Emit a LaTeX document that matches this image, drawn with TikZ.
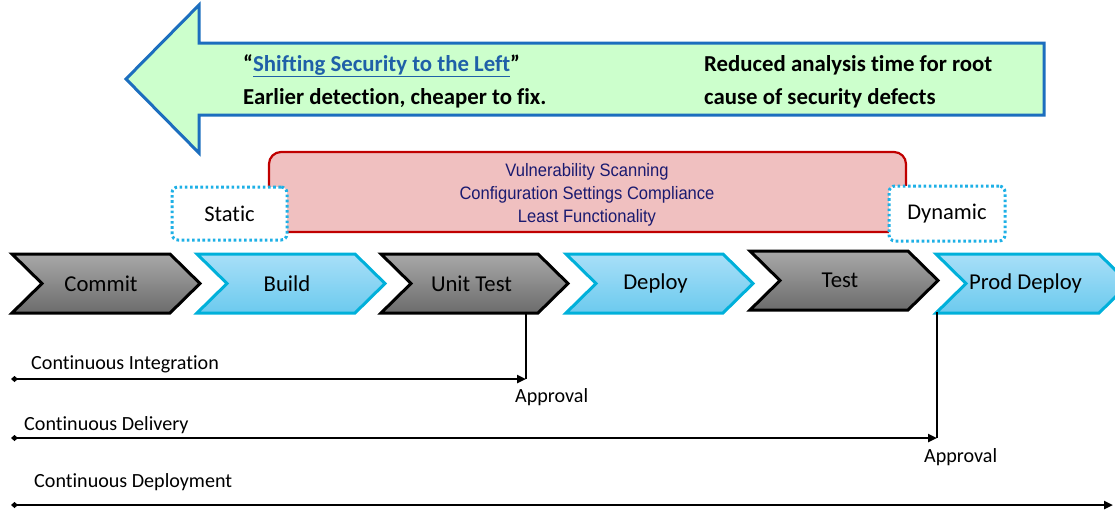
\documentclass[tikz,border=0pt]{standalone}
\usepackage{fontspec}
\setmainfont{Carlito}[Ligatures={NoCommon}]
\newfontfamily\arialn[FakeStretch=0.92]{Liberation Sans}
\usetikzlibrary{arrows.meta}
\definecolor{gfill}{HTML}{CCFFCC}
\definecolor{gline}{HTML}{1C6EBE}
\definecolor{linkblue}{HTML}{1F60A8}
\definecolor{rfill}{HTML}{F0C0C0}
\definecolor{rline}{HTML}{C00000}
\definecolor{navy}{HTML}{1A1A70}
\definecolor{dotcyan}{HTML}{1EB0E6}
\definecolor{graytop}{HTML}{A8A8A8}
\definecolor{graybot}{HTML}{6C6C6C}
\definecolor{bluetop}{HTML}{A8DFF8}
\definecolor{bluebot}{HTML}{6CCAEE}
\definecolor{blueline}{HTML}{00B0DA}
\newcommand\mychev[7]{% name, left x, top y, width, style, text, text offset
  \path[#5] (#2,#3) -- ++(#4-30,0) -- ++(30,29.5) -- ++(-30,29.5) -- ++(-#4+30,0) -- ++(30,-29.5) -- cycle;
  \node[chevtext] (#1) at (#2+#4/2+#7,#3+29.5) {#6};
  \coordinate (#1-sw) at (#2,#3+59);
}
\begin{document}
\begin{tikzpicture}[x=1pt,y=-1pt,
  greenarrow/.style={draw=gline,line width=3pt,fill=gfill,line join=miter},
  boldtxt/.style={anchor=base west,inner sep=0pt,font=\bfseries\fontsize{22.8}{26}\selectfont},
  redbox/.style={draw=rline,line width=2.2pt,fill=rfill,rounded corners=12pt},
  redtxt/.style={align=center,text=navy,font=\arialn\fontsize{18}{23}\selectfont},
  dotbox/.style={draw=dotcyan,fill=white,line width=3pt,dash pattern=on 2.6pt off 2.6pt,rounded corners=6pt,font=\fontsize{22.5}{25}\selectfont},
  graychev/.style={draw=black,line width=3pt,top color=graytop,bottom color=graybot,line join=miter},
  bluechev/.style={draw=blueline,line width=3pt,top color=bluetop,bottom color=bluebot,line join=miter},
  chevtext/.style={font=\fontsize{22.7}{25}\selectfont},
  lowtxt/.style={anchor=base west,inner sep=0pt,font=\fontsize{20.1}{23}\selectfont},
  conn/.style={draw=black,line width=2.4pt},
  connarrow/.style={conn,{Diamond[length=7pt,width=6pt]}-{Triangle[length=9pt,width=8pt]}}
]
\useasboundingbox (0,0) rectangle (1115,512);
\clip (0,0) rectangle (1115,512);

% green arrow
\path[greenarrow] (126,79) -- (199,5) -- (199,43) -- (1044,43) -- (1044,115) -- (199,115) -- (199,153) -- cycle;
\node[boldtxt] (shift) at (243,71) {“\textcolor{linkblue}{\underline{Shifting Security to the Left}}”};
\node[boldtxt] (earlier) at (243,104) {Earlier detection, cheaper to fix.};
\node[boldtxt] (reduced) at (704,71) {Reduced analysis time for root};
\node[boldtxt] (cause) at (704,104) {cause of security defects};

% red box
\path[redbox] (269,152) rectangle (906,232);
\node[redtxt] (vuln) at (587,195) {Vulnerability Scanning\\Configuration Settings Compliance\\Least Functionality};

% dotted boxes
\node[dotbox,minimum width=115,minimum height=53] (static) at (229.5,213.5) {Static};
\node[dotbox,minimum width=116,minimum height=55] (dynamic) at (947,213.5) {Dynamic};

% chevrons
\mychev{commit}{12}{254}{188}{graychev}{Commit}{-5}
\mychev{build}{197}{254}{188}{bluechev}{Build}{-4}
\mychev{unit}{381}{254}{187}{graychev}{Unit Test}{-3}
\mychev{deploy}{566}{254}{187}{bluechev}{Deploy}{-4}
\mychev{test}{750}{251}{188}{graychev}{Test}{-4}
\mychev{prod}{936}{254}{193}{bluechev}{Prod Deploy}{-7}

% connectors
\coordinate (ut-b) at (526,312);
\coordinate (ci-s) at (11,379);
\coordinate (ci-e) at (526,379);
\coordinate (pd-b) at (937,312);
\coordinate (cd-s) at (11,438);
\coordinate (cd-e) at (937,438);
\coordinate (dp-s) at (11,505);
\coordinate (dp-e) at (1113,505);
\draw[conn] (ut-b) -- (ci-e);
\draw[connarrow] (ci-s) -- (ci-e);
\draw[conn] (pd-b) -- (cd-e);
\draw[connarrow] (cd-s) -- (cd-e);
\draw[connarrow] (dp-s) -- (dp-e);

\node[lowtxt] (ci) at (31,369) {Continuous Integration};
\node[lowtxt] (ap1) at (515,402) {Approval};
\node[lowtxt] (cd) at (24,430) {Continuous Delivery};
\node[lowtxt] (ap2) at (924,462) {Approval};
\node[lowtxt] (dep) at (34,487) {Continuous Deployment};
\end{tikzpicture}
\end{document}
